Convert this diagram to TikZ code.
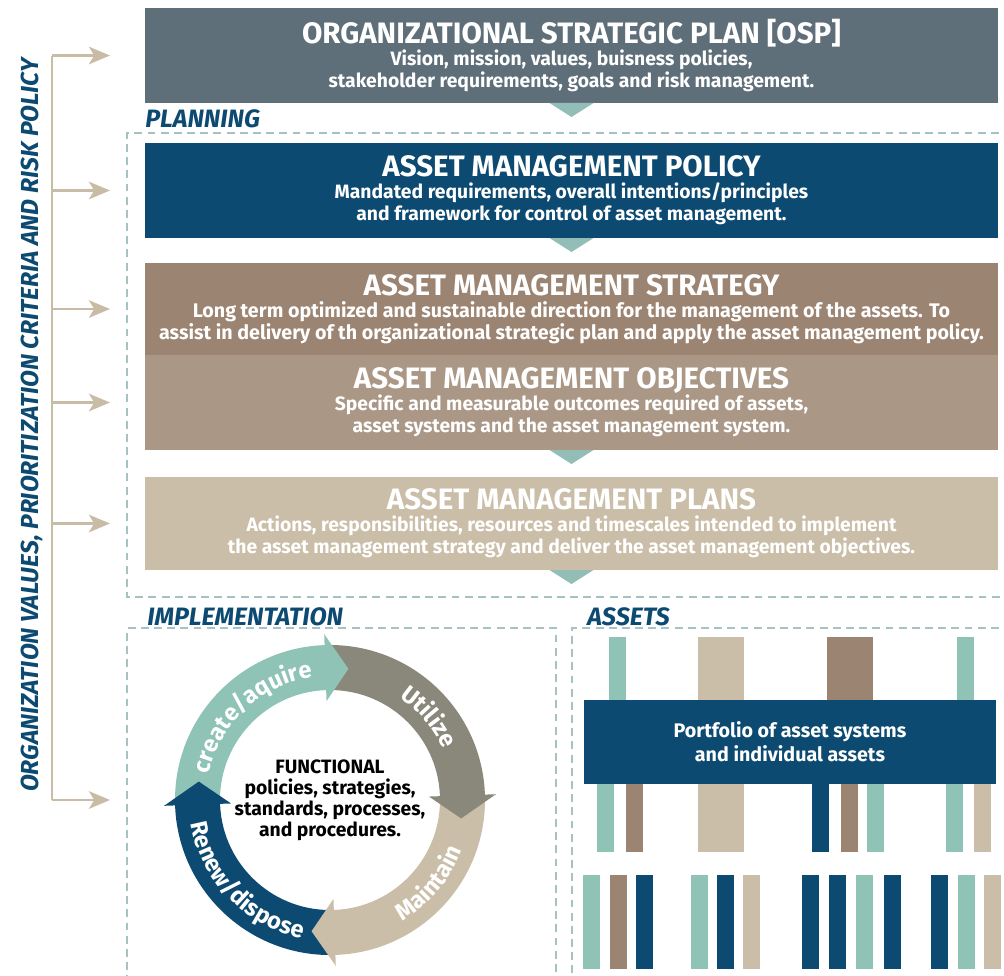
\documentclass[tikz,border=0pt]{standalone}
\usepackage{fontspec}
\setmainfont{Fira Sans}
\usetikzlibrary{arrows.meta,decorations.text}

\definecolor{ospgray}{HTML}{5F6F7A}
\definecolor{navy}{HTML}{0D4A71}
\definecolor{bark}{HTML}{9C8472}
\definecolor{clay}{HTML}{AA9786}
\definecolor{sand}{HTML}{CBBEA8}
\definecolor{mint}{HTML}{8FC3B6}
\definecolor{stone}{HTML}{8A877B}
\definecolor{notchc}{HTML}{93BDB7}
\definecolor{dashc}{HTML}{A6C2C2}
\definecolor{tan}{HTML}{C9BCA6}

\tikzset{
  box/.style={rectangle, inner sep=0pt, outer sep=0pt, minimum width=17.06cm,
    text=white, align=center, font=\fontsize{11}{12.5}\selectfont\bfseries},
  notch/.style={fill=notchc},
  frame/.style={dashc, line width=0.6pt, dash pattern=on 4.5pt off 3pt},
  tag/.style={anchor=base west, inner sep=0pt, text=navy,
    font=\fontsize{14.3}{16}\selectfont\bfseries\itshape},
  feed/.style={tan, line width=1.2pt, -{Stealth[length=12pt, width=10pt, inset=3pt]}},
  ringtext/.style={decorate, decoration={text along path, text align=center,
    text color=white}}
}
\newcommand{\boxtitle}[1]{{\fontsize{16.8}{18}\selectfont #1}\\}
\newcommand{\ringfont}{\fontsize{13.5}{15}\selectfont\bfseries}

\begin{document}
\begin{tikzpicture}[x=0.02cm, y=0.02cm]
  \clip (0,0) rectangle (1004,-975);

  % planning stack
  \node[box, fill=ospgray, minimum height=1.9cm] (osp) at (571.5,-55.5)
    {\boxtitle{ORGANIZATIONAL STRATEGIC PLAN [OSP]}Vision, mission, values, buisness policies,\\stakeholder requirements, goals and risk management.};
  \node[box, fill=navy, minimum height=1.9cm] (policy) at (571.5,-190.5)
    {\boxtitle{ASSET MANAGEMENT POLICY}Mandated requirements, overall intentions/principles\\and framework for control of asset management.};
  \node[box, fill=bark, minimum height=1.84cm, font=\fontsize{11.2}{12.5}\selectfont\bfseries] (strategy) at (571.5,-309)
    {\boxtitle{ASSET MANAGEMENT STRATEGY}Long term optimized and sustainable direction for the management of the assets. To\\assist in delivery of th organizational strategic plan and apply the asset management policy.};
  \node[box, fill=clay, minimum height=1.9cm] (objectives) at (571.5,-402.5)
    {\boxtitle{ASSET MANAGEMENT OBJECTIVES}Specific and measurable outcomes required of assets,\\asset systems and the asset management system.};
  \node[box, fill=sand, minimum height=1.86cm] (plans) at (571.5,-523.5)
    {\boxtitle{ASSET MANAGEMENT PLANS}Actions, responsibilities, resources and timescales intended to implement\\the asset management strategy and deliver the asset management objectives.};
  \foreach \n in {osp,policy,objectives,plans}
    \fill[notch] (\n.south) ++(-22,0) -- ++(44,0) -- ++(-22,-14) -- cycle;

  % dashed frames and their tags
  \draw[frame] (1012,-133) -- (127,-133) -- (127,-597) -- (1012,-597);
  \draw[frame] (556,-985) -- (556,-628) -- (127,-628) -- (127,-985);
  \draw[frame] (1012,-628) -- (572,-628) -- (572,-985);
  \node[tag] (planning) at (145,-127) {PLANNING};
  \node[tag] (implementation) at (147,-625) {IMPLEMENTATION};
  \node[tag] (assets) at (587,-625) {ASSETS};

  % life cycle
  \node[circle, minimum size=6.2cm, inner sep=0pt, align=center,
    font=\fontsize{11}{12}\selectfont\bfseries] (cycle) at (330,-800)
    {FUNCTIONAL\\policies, strategies,\\standards, processes,\\and procedures.};
  \begin{scope}[shift={(cycle.center)}]
    \foreach \s/\e/\c in {180/90/mint, 90/0/stone, 0/-90/sand, -90/-180/navy}
      \fill[\c] (\s:155) arc[start angle=\s, end angle=\e, radius=155]
        -- (\e:110) arc[start angle=\e, end angle=\s, radius=110] -- cycle;
    \foreach \e/\c in {90/mint, 0/stone, -90/sand, -180/navy}
      \fill[\c] ({\e+2}:99) -- ({\e+2}:166) -- ({\e-8}:132.5) -- cycle;
    \path[ringtext, decoration={text={|\ringfont|create/aquire}}]
      (176:124) arc[start angle=176, end angle=90, radius=124];
    \path[ringtext, decoration={text={|\ringfont|Utilize}}]
      (80:124) arc[start angle=80, end angle=0, radius=124];
    \path[ringtext, decoration={text={|\ringfont|Maintain}}]
      (-80:141) arc[start angle=-80, end angle=0, radius=141];
    \path[ringtext, decoration={text={|\ringfont|Renew/dispose}}]
      (184:141) arc[start angle=184, end angle=264, radius=141];
  \end{scope}

  % asset bars
  \fill[sand] (698,-637) rectangle ++(46,-215);
  \foreach \x/\w/\c in {609/17/mint, 827/46/bark, 957/17/mint}
    \fill[\c] (\x,-637) rectangle ++(\w,-70);
  \foreach \x/\c in {597/mint, 626/bark, 812/navy, 841/bark, 867/mint, 946/mint, 974/sand}
    \fill[\c] (\x,-775) rectangle ++(17,-77);
  \foreach \x/\c in {583/mint, 610/bark, 636/navy, 691/mint, 717/navy, 743/sand,
      802/navy, 829/navy, 856/mint, 884/navy, 931/navy, 958/mint, 984/sand}
    \fill[\c] (\x,-875) rectangle ++(17,-94);
  \node[fill=navy, text=white, minimum width=8.24cm, minimum height=1.68cm,
    align=center, font=\fontsize{11.2}{13.6}\selectfont\bfseries] (portfolio) at (790,-742)
    {Portfolio of asset systems\\and individual assets};

  % values feeding every level
  \node[rotate=90, text=navy, font=\fontsize{14}{16}\selectfont\bfseries\itshape] (values) at (32,-425)
    {ORGANIZATION VALUES, PRIORITIZATION CRITERIA AND RISK POLICY};
  \coordinate (spine) at (52,0);
  \coordinate (head) at (110,0);
  \draw[tan, line width=1.2pt] (osp.west -| spine) -- (cycle.west -| spine);
  \foreach \b in {osp,policy,strategy,objectives,plans,cycle}
    \draw[feed] (\b.west -| spine) -- (\b.west -| head);
\end{tikzpicture}
\end{document}
